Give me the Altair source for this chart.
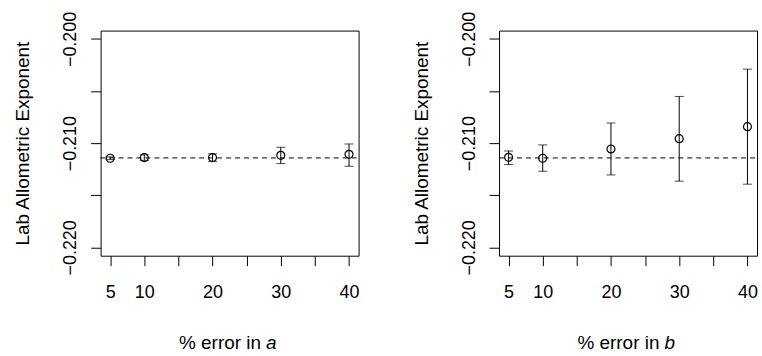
import altair as alt
import pandas as pd

# ---- data ----
pct = [5, 10, 20, 30, 40]

a_mean = [-0.21145, -0.21139, -0.21139, -0.21117, -0.21107]
a_lo = [-0.21158, -0.21166, -0.21175, -0.21196, -0.21222]
a_hi = [-0.21132, -0.21112, -0.21103, -0.21040, -0.21008]

b_mean = [-0.21136, -0.21145, -0.21056, -0.20957, -0.20842]
b_lo = [-0.21206, -0.21270, -0.21305, -0.21365, -0.21394]
b_hi = [-0.21075, -0.21017, -0.20807, -0.20552, -0.20290]

ref_value = -0.21142

x_ticks = [5, 10, 15, 20, 25, 30, 35, 40]
x_unlabeled = [15, 25, 35]
y_ticks = [-0.220, -0.215, -0.210, -0.205, -0.200]

FONT = "Liberation Sans"
FS = 18
TFS = 19
W, H = 259, 226


def panel(mean, lo, hi, letter):
    df = pd.DataFrame({"pct": pct, "mean": mean, "lo": lo, "hi": hi})
    xs = alt.Scale(domain=[3.6, 41.4], nice=False, zero=False)
    ys = alt.Scale(domain=[-0.2208, -0.1992], nice=False, zero=False)
    hide = " || ".join("datum.value == %d" % v for v in x_unlabeled)
    x_axis = alt.Axis(
        values=x_ticks, tickCount=len(x_ticks) + 2,
        labelExpr="(" + hide + ") ? '' : datum.label",
        title=None, grid=False, domain=False,
        tickSize=10, tickColor="black", tickWidth=1,
        labelPadding=18, labelFont=FONT, labelFontSize=FS, labelColor="black",
        labelFlush=False, labelOverlap=False,
    )
    y_axis = alt.Axis(
        values=y_ticks, tickCount=len(y_ticks) + 2, format=".3f",
        labelExpr="round(datum.value*1000) % 10 == 0 ? datum.label : ''",
        title="Lab Allometric Exponent", grid=False, domain=False,
        tickSize=10, tickColor="black", tickWidth=1,
        labelAngle=270, labelAlign="center", labelBaseline="bottom",
        labelPadding=11, labelFont=FONT, labelFontSize=FS, labelColor="black",
        labelFlush=False, labelOverlap=False,
        titleFont=FONT, titleFontSize=TFS, titleFontWeight="normal",
        titleColor="black", titlePadding=29,
    )
    base = alt.Chart(df)
    pts = base.mark_point(shape="circle", filled=False, size=64, color="black",
                          strokeWidth=1.2, opacity=1).encode(
        x=alt.X("pct:Q", scale=xs, axis=x_axis),
        y=alt.Y("mean:Q", scale=ys, axis=y_axis),
    )
    ref = base.transform_aggregate(n="count()").transform_calculate(
        ref=str(ref_value)
    ).mark_rule(color="black", strokeWidth=1, strokeDash=[5, 4]).encode(
        y=alt.Y("ref:Q", scale=ys),
        x=alt.value(0), x2=alt.value(W),
    )
    bars = base.mark_rule(color="black", strokeWidth=1).encode(
        x=alt.X("pct:Q", scale=xs),
        y=alt.Y("lo:Q", scale=ys), y2="hi:Q",
    )
    cap_lo = base.mark_tick(orient="horizontal", size=9, thickness=1, color="black").encode(
        x=alt.X("pct:Q", scale=xs), y=alt.Y("lo:Q", scale=ys)
    )
    cap_hi = base.mark_tick(orient="horizontal", size=9, thickness=1, color="black").encode(
        x=alt.X("pct:Q", scale=xs), y=alt.Y("hi:Q", scale=ys)
    )
    tdf = pd.DataFrame({"main": ["% error in"], "var": [letter]})
    t1 = alt.Chart(tdf).mark_text(align="right", baseline="alphabetic", font=FONT,
                                  fontSize=TFS, color="black").encode(
        text="main:N", x=alt.value(161), y=alt.value(319.5)
    )
    t2 = alt.Chart(tdf).mark_text(align="left", baseline="alphabetic", font=FONT,
                                  fontSize=TFS, fontStyle="italic", color="black").encode(
        text="var:N", x=alt.value(166), y=alt.value(319.5)
    )
    return alt.layer(pts, ref, bars, cap_lo, cap_hi, t1, t2).properties(width=W, height=H)


chart = alt.hconcat(
    panel(a_mean, a_lo, a_hi, "a"),
    panel(b_mean, b_lo, b_hi, "b"),
    spacing=141, bounds="flush",
).properties(
    padding={"left": 13, "top": 10, "right": 4, "bottom": 0},
    background="white",
).configure_view(stroke="black", strokeWidth=1)

chart.save("out.html", embed_options={"renderer": "svg", "actions": False})
